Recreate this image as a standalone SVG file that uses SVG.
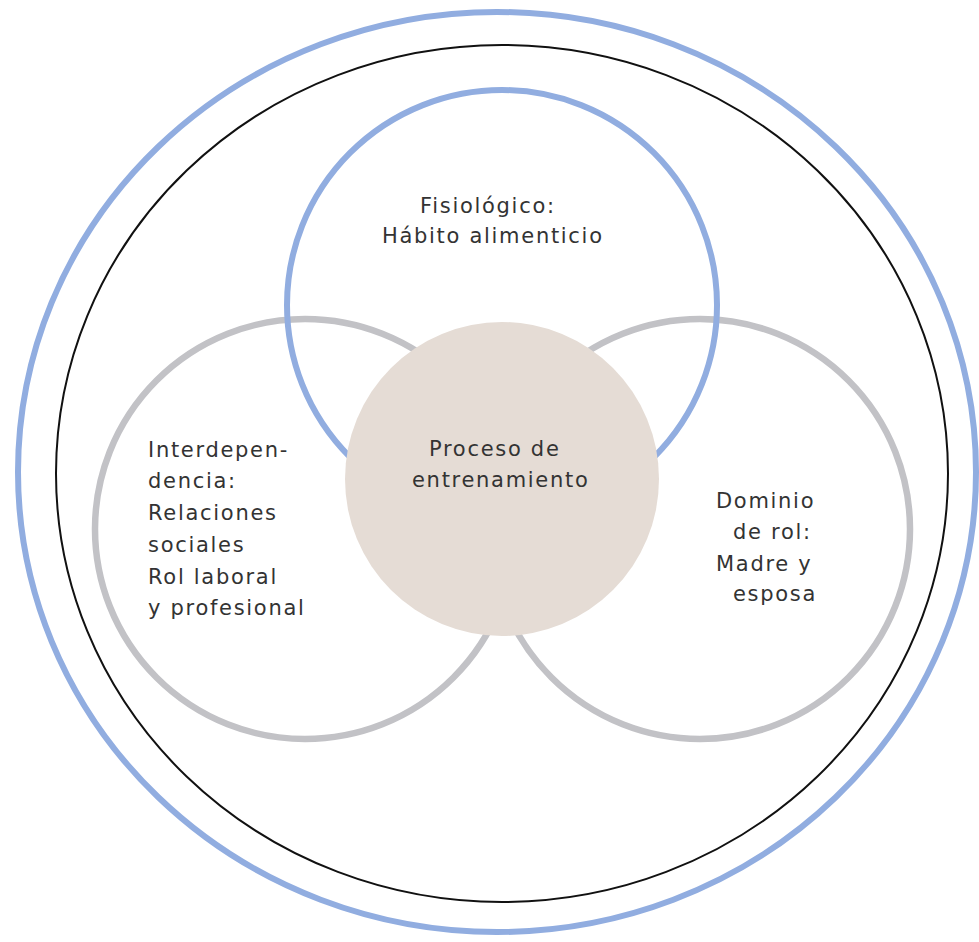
<svg xmlns="http://www.w3.org/2000/svg" width="979" height="942" viewBox="0 0 979 942">
<style>
.blue{fill:none;stroke:#91ade0;stroke-width:6}
.gray{fill:none;stroke:#c2c2c6;stroke-width:6.5}
.black{fill:none;stroke:#111;stroke-width:2}
.core{fill:#e5dcd5;stroke:none}
text{font-family:"DejaVu Sans","Verdana",sans-serif;font-size:21px;letter-spacing:1.7px;fill:#333}
</style>
<rect width="979" height="942" fill="#fff"/>
<g id="outer-ring"><ellipse class="blue" cx="497" cy="472" rx="479" ry="460"/></g>
<g id="environment"><ellipse class="black" cx="502" cy="473.5" rx="446" ry="428.5"/></g>
<g id="interdependencia">
<circle class="gray" cx="305" cy="529" r="210"/>
<text x="148" y="457">Interdepen-</text>
<text x="148" y="488">dencia:</text>
<text x="148" y="520">Relaciones</text>
<text x="148" y="552">sociales</text>
<text x="148" y="584">Rol laboral</text>
<text x="148" y="615">y profesional</text>
</g>
<g id="dominio-rol">
<circle class="gray" cx="700" cy="529" r="210"/>
<text x="716" y="508">Dominio</text>
<text x="733" y="539">de rol:</text>
<text x="716" y="571">Madre y</text>
<text x="733" y="601">esposa</text>
</g>
<g id="fisiologico">
<circle class="blue" cx="502" cy="305" r="215"/>
<text x="420" y="213">Fisiológico:</text>
<text x="382" y="243">Hábito alimenticio</text>
</g>
<g id="proceso">
<circle class="core" cx="502" cy="479" r="157"/>
<text x="429" y="456">Proceso de</text>
<text x="412" y="487">entrenamiento</text>
</g>
<g id="connectors"></g>
</svg>
